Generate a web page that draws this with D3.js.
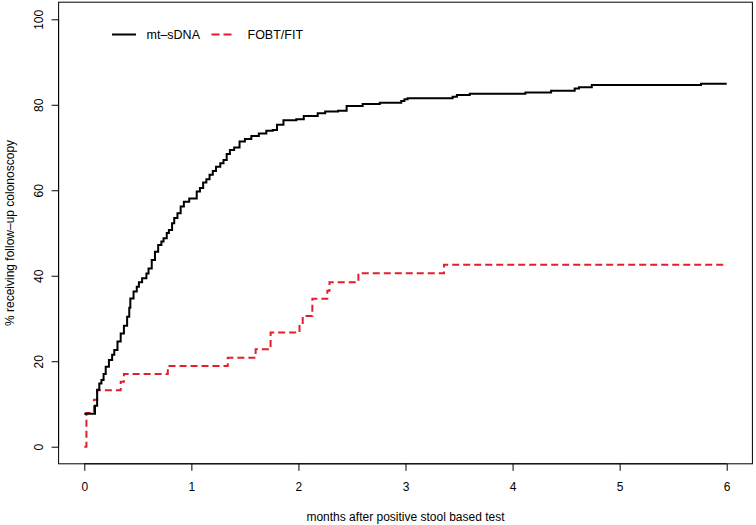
<!DOCTYPE html>
<html>
<head>
<meta charset="utf-8">
<script src="https://cdn.jsdelivr.net/npm/d3@7"></script>
<style>
  html, body { margin: 0; padding: 0; background: #fff; }
  svg { display: block; font-family: "Liberation Sans", Arial, Helvetica, sans-serif; }
</style>
</head>
<body>
<svg id="chart" width="756" height="525"></svg>
<script>
// ---- data ----
const seriesNames = ["mt–sDNA", "FOBT/FIT"];
const mtTimes = [0, 0.10, 0.12, 0.14, 0.16, 0.18, 0.20, 0.23, 0.26, 0.28, 0.31, 0.34, 0.37, 0.40, 0.42, 0.43,
  0.46, 0.49, 0.51, 0.54, 0.58, 0.60, 0.63, 0.66, 0.69, 0.72, 0.74, 0.77, 0.79, 0.82, 0.84, 0.87, 0.90, 0.93,
  0.98, 1.05, 1.08, 1.11, 1.14, 1.17, 1.20, 1.23, 1.27, 1.30, 1.33, 1.36, 1.40, 1.45, 1.50, 1.56, 1.63, 1.70,
  1.76, 1.80, 1.86, 1.98, 2.05, 2.18, 2.25, 2.37, 2.45, 2.60, 2.76, 2.96, 2.99, 3.02, 3.44, 3.48, 3.60, 4.12,
  4.36, 4.58, 4.62, 4.74, 5.76, 6.0];
const mtValues = [7.7, 9.6, 13.3, 14.8, 15.6, 17.0, 18.7, 20.3, 21.5, 22.6, 24.6, 26.5, 28.3, 30.4, 32.5, 34.7,
  36.3, 37.4, 38.5, 39.4, 40.5, 41.7, 43.7, 45.6, 47.2, 48.0, 48.8, 50.0, 50.7, 52.3, 53.5, 54.6, 56.2, 57.3,
  58.1, 59.7, 60.5, 61.8, 62.6, 63.6, 64.5, 65.5, 66.3, 67.1, 68.5, 69.4, 70.0, 71.4, 72.0, 72.7, 73.3, 73.9,
  74.1, 75.3, 76.4, 76.6, 77.4, 78.0, 78.4, 78.6, 79.7, 80.2, 80.5, 80.9, 81.3, 81.5, 81.9, 82.3, 82.6, 82.9,
  83.3, 83.8, 84.1, 84.6, 84.9, 84.9];
const fitTimes = [0, 0.02, 0.09, 0.12, 0.34, 0.37, 0.78, 1.34, 1.60, 1.74, 2.01, 2.04, 2.13, 2.27, 2.29, 2.56, 3.36, 6.0];
const fitValues = [0, 7.9, 11.0, 13.2, 15.2, 17.0, 18.9, 20.8, 22.8, 26.7, 28.6, 30.6, 34.6, 36.5, 38.5, 40.6, 42.6, 42.6];
const xTicks = [0, 1, 2, 3, 4, 5, 6];
const yTicks = [0, 20, 40, 60, 80, 100];
const xTitle = "months after positive stool based test";
const yTitle = "% receiving follow–up colonoscopy";

// ---- layout ----
const svg = d3.select("#chart");
const plot = { left: 58.6, right: 752.4, top: 2.2, bottom: 463.8 };
const x = d3.scaleLinear().domain([-0.24, 6.24]).range([plot.left, plot.right]);
const y = d3.scaleLinear().domain([-4, 104]).range([plot.bottom, plot.top]);
const red = "#e41f2b";

// box
svg.append("rect")
  .attr("x", plot.left).attr("y", plot.top)
  .attr("width", plot.right - plot.left).attr("height", plot.bottom - plot.top)
  .attr("fill", "none").attr("stroke", "#000").attr("stroke-width", 1);

// x axis
const xAxis = svg.append("g").attr("transform", `translate(0,${plot.bottom})`)
  .call(d3.axisBottom(x).tickValues(xTicks).tickSize(7).tickPadding(12).tickFormat(d3.format("d")));
xAxis.select(".domain").attr("d", `M${x(0)},0H${x(6)}`);
xAxis.selectAll("text").attr("font-size", 12).attr("fill", "#000").attr("font-family", "Liberation Sans, Arial, sans-serif");

// y axis
const yAxis = svg.append("g").attr("transform", `translate(${plot.left},0)`)
  .call(d3.axisLeft(y).tickValues(yTicks).tickSize(7).tickFormat(d3.format("d")));
yAxis.select(".domain").attr("d", `M0,${y(0)}V${y(100)}`);
yAxis.selectAll(".tick text")
  .attr("x", null).attr("dy", null)
  .attr("transform", "translate(-16,0) rotate(-90)")
  .attr("text-anchor", "middle")
  .attr("font-size", 12).attr("fill", "#000").attr("font-family", "Liberation Sans, Arial, sans-serif");

// titles
svg.append("text").attr("x", x(3)).attr("y", 521)
  .attr("text-anchor", "middle").attr("font-size", 12).text(xTitle);
svg.append("text").attr("transform", `translate(14,${y(50)}) rotate(-90)`)
  .attr("text-anchor", "middle").attr("font-size", 12).text(yTitle);

// curves
const line = d3.line().curve(d3.curveStepAfter).x(d => x(d[0])).y(d => y(d[1]));
const mtData = mtTimes.map((t, i) => [t, mtValues[i]]);
const fitData = fitTimes.map((t, i) => [t, fitValues[i]]);

svg.append("path").datum(fitData).attr("d", line)
  .attr("fill", "none").attr("stroke", red).attr("stroke-width", 2)
  .attr("stroke-dasharray", "7,4");
svg.append("path").datum(mtData).attr("d", line)
  .attr("fill", "none").attr("stroke", "#000").attr("stroke-width", 2);

// legend
const lg = svg.append("g");
lg.append("line").attr("x1", 112).attr("x2", 136).attr("y1", 34.5).attr("y2", 34.5)
  .attr("stroke", "#000").attr("stroke-width", 2);
lg.append("text").attr("x", 146.5).attr("y", 39).attr("font-size", 12.5).text(seriesNames[0]);
lg.append("line").attr("x1", 211.5).attr("x2", 232).attr("y1", 34.5).attr("y2", 34.5)
  .attr("stroke", red).attr("stroke-width", 2).attr("stroke-dasharray", "8,4");
lg.append("text").attr("x", 247.5).attr("y", 39).attr("font-size", 12.5).text(seriesNames[1]);
</script>
</body>
</html>
